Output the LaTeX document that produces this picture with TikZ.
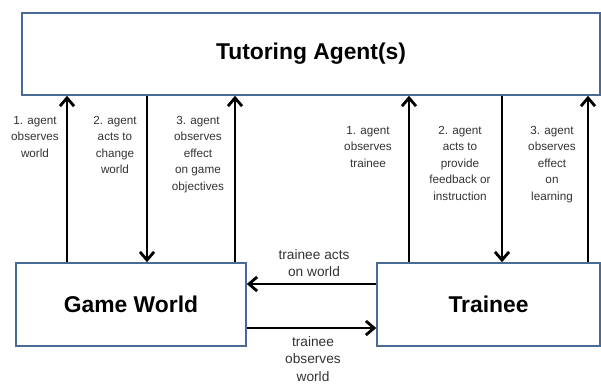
\documentclass[tikz,border=0pt]{standalone}
\usepackage{fontspec}
\setmainfont{Liberation Sans}
\usetikzlibrary{arrows.meta}
\definecolor{boxblue}{RGB}{74,106,150}
\tikzset{
	box/.style={draw=boxblue, line width=1.3pt, fill=white, inner sep=0pt, font=\fontsize{19.5}{23}\selectfont\bfseries},
	flow/.style={line width=2.4pt, -{Straight Barb[length=7pt,width=12pt]}},
	vlabel/.style={align=center, text=black!80, font=\fontsize{10}{14}\selectfont, anchor=north, inner sep=0pt},
	hlabel/.style={align=center, text=black!80, font=\fontsize{11.7}{15.2}\selectfont, inner sep=0pt}
}

\begin{document}
\begin{tikzpicture}[x=0.03cm, y=-0.03cm]
		%%%%% START %%%%%
		\useasboundingbox (0, 0) rectangle (601, 385);
		
		\node[box, minimum width=17.34cm, minimum height=2.46cm] (agent) at (311, 54) {Tutoring Agent(s)};
		\node[box, minimum width=6.9cm, minimum height=2.49cm] (world) at (131, 304.5) {Game World};
		\node[box, minimum width=6.69cm, minimum height=2.49cm] (trainee) at (488.5, 304.5) {Trainee};
		
		% agent <-> game world
		\coordinate (w1) at (67, 0);
		\coordinate (w2) at (147, 0);
		\coordinate (w3) at (235, 0);
		\draw[flow] (world.north -| w1) -- (agent.south -| w1);
		\draw[flow] (agent.south -| w2) -- (world.north -| w2);
		\draw[flow] (world.north -| w3) -- (agent.south -| w3);
		
		\node[vlabel] (wl1) at (35, 116) {1. agent\\observes\\world};
		\node[vlabel] (wl2) at (115, 116) {2. agent\\acts to\\change\\world};
		\node[vlabel] (wl3) at (198, 116) {3. agent\\observes\\effect\\on game\\objectives};
		
		% agent <-> trainee
		\coordinate (t1) at (409, 0);
		\coordinate (t2) at (502, 0);
		\coordinate (t3) at (588, 0);
		\draw[flow] (trainee.north -| t1) -- (agent.south -| t1);
		\draw[flow] (agent.south -| t2) -- (trainee.north -| t2);
		\draw[flow] (trainee.north -| t3) -- (agent.south -| t3);
		
		\node[vlabel] (tl1) at (368, 126) {1. agent\\observes\\trainee};
		\node[vlabel] (tl2) at (460, 126) {2. agent\\acts to\\provide\\feedback or\\instruction};
		\node[vlabel] (tl3) at (552, 126) {3. agent\\observes\\effect\\on\\learning};
		
		% game world <-> trainee
		\coordinate (hi) at (0, 284);
		\coordinate (lo) at (0, 328);
		\draw[flow] (trainee.west |- hi) -- (world.east |- hi);
		\draw[flow] (world.east |- lo) -- (trainee.west |- lo);
		
		\node[hlabel] (act) at (314, 263) {trainee acts\\on world};
		\node[hlabel] (obs) at (313, 359) {trainee\\observes\\world};
		
		%%%%% END %%%%%
	\end{tikzpicture}
\end{document}
